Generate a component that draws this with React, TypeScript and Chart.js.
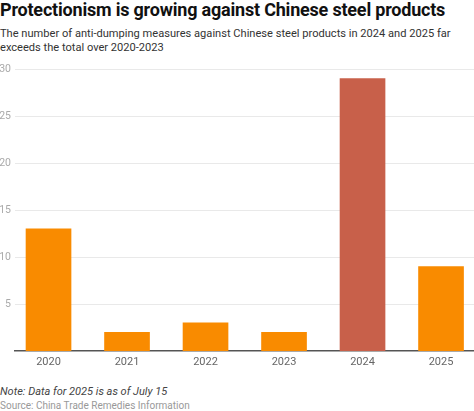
import { useEffect, useRef } from 'react';
import Chart from 'chart.js/auto';

// Anti-dumping measures against Chinese steel products, per year
const years = ['2020', '2021', '2022', '2023', '2024', '2025'];
const measures = [13, 2, 3, 2, 29, 9];
const yTicks = [5, 10, 15, 20, 25, 30];
const highlightYear = '2024';

const ORANGE = '#f98b00';
const RED = '#c8604a';
const FONT = 'Roboto, "Noto Sans", sans-serif';

export default function App() {
  const canvasRef = useRef<HTMLCanvasElement>(null);
  const chartRef = useRef<Chart | null>(null);

  useEffect(() => {
    document.body.style.margin = '0';
    const ctx = canvasRef.current?.getContext('2d');
    if (!ctx) return;

    chartRef.current = new Chart(ctx, {
      type: 'bar',
      data: {
        datasets: [
          {
            data: measures.map((v, i) => ({ x: i, y: v })),
            backgroundColor: years.map((y) => (y === highlightYear ? RED : ORANGE)),
            barThickness: 45,
            borderWidth: 0,
          },
        ],
      },
      options: {
        animation: false,
        responsive: true,
        maintainAspectRatio: false,
        layout: { padding: 0 },
        plugins: { legend: { display: false }, tooltip: { enabled: false } },
        scales: {
          x: {
            type: 'linear',
            offset: false,
            min: -0.427,
            max: 5.42,
            afterBuildTicks: (axis: any) => {
              axis.ticks = years.map((_, i) => ({ value: i }));
            },
            afterFit: (axis: any) => {
              axis.height = 25;
            },
            grid: { display: false, drawTicks: false },
            border: { display: true, color: '#555', width: 1.5 },
            ticks: {
              autoSkip: false,
              maxRotation: 0,
              padding: 5,
              color: '#666',
              font: { family: FONT, size: 11 },
              callback: (v: any) => years[Number(v)] ?? '',
            },
          },
          y: {
            min: 0,
            max: 30,
            afterBuildTicks: (axis: any) => {
              axis.ticks = yTicks.map((v) => ({ value: v }));
            },
            afterFit: (axis: any) => {
              axis.width = 15;
            },
            grid: { color: '#e9e9e9', lineWidth: 1, drawTicks: false },
            border: { display: false },
            ticks: {
              padding: 4,
              color: '#aaa',
              font: { family: FONT, size: 10.5 },
            },
          },
        },
      },
    });

    return () => {
      chartRef.current?.destroy();
      chartRef.current = null;
    };
  }, []);

  return (
    <div style={{ position: 'relative', width: 474, height: 411, fontFamily: FONT, background: '#fff', overflow: 'hidden' }}>
      <div style={{ position: 'absolute', left: 0, top: -1, fontSize: 18, fontWeight: 700, color: '#111', whiteSpace: 'nowrap', letterSpacing: -0.2 }}>
        Protectionism is growing against Chinese steel products
      </div>
      <div style={{ position: 'absolute', left: 0, top: 27, fontSize: 11.1, lineHeight: '14px', color: '#333', whiteSpace: 'nowrap' }}>
        The number of anti-dumping measures against Chinese steel products in 2024 and 2025 far
        <br />
        exceeds the total over 2020-2023
      </div>
      <div style={{ position: 'absolute', left: 0, top: 59, width: 474, height: 317 }}>
        <canvas ref={canvasRef} />
      </div>
      <div style={{ position: 'absolute', left: 0, top: 385, fontSize: 11, fontStyle: 'italic', color: '#444' }}>
        Note: Data for 2025 is as of July 15
      </div>
      <div style={{ position: 'absolute', left: 0, top: 400, fontSize: 10, color: '#999' }}>
        Source: China Trade Remedies Information
      </div>
    </div>
  );
}
